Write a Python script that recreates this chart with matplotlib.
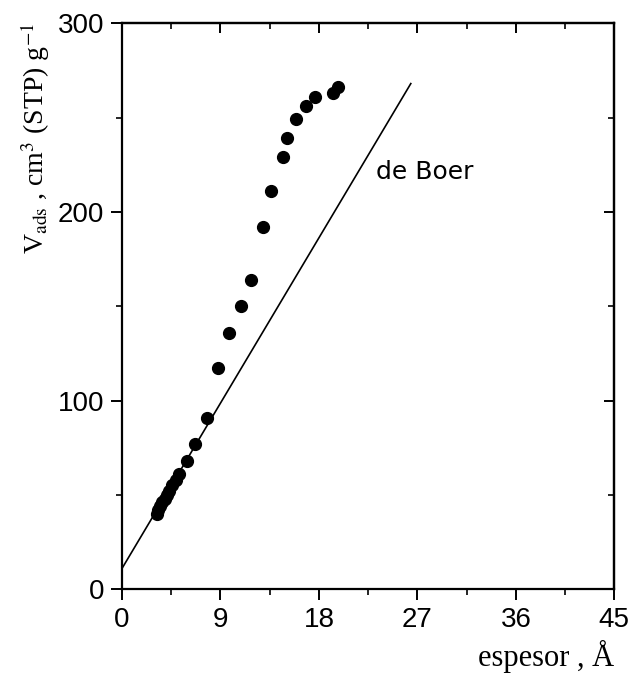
import numpy as np
import matplotlib
matplotlib.use("Agg")
import matplotlib.pyplot as plt
from matplotlib.ticker import MultipleLocator

# measured points (espesor in A, V_ads in cm3 STP/g)
espesor = [3.2, 3.3, 3.5, 3.7, 3.9, 4.1, 4.3, 4.6, 4.9, 5.2,
           5.9, 6.7, 7.8, 8.8, 9.8, 10.9, 11.8, 12.9, 13.6, 14.7,
           15.1, 15.9, 16.8, 17.6, 19.3, 19.7]
v_ads = [40, 42, 44, 46, 48, 50, 52, 55, 58, 61,
         68, 77, 91, 117, 136, 150, 164, 192, 211, 229,
         239, 249, 256, 261, 263, 266]

# de Boer reference line
boer_x = [0, 26.4]
boer_y = [11, 268]

plt.rcParams['mathtext.fontset'] = 'stix'

fig = plt.figure(figsize=(6.32, 6.82), dpi=100)
ax = fig.add_axes([0.193, 0.136, 0.779, 0.830])

ax.plot(boer_x, boer_y, color='black', lw=1.2)
ax.plot(espesor, v_ads, 'o', color='black', ms=8.5, mec='black')

ax.text(23.2, 221, 'de Boer', fontsize=18, family='DejaVu Sans',
        va='center', ha='left')

ax.set_xlim(0, 45)
ax.set_ylim(0, 300)
ax.xaxis.set_major_locator(MultipleLocator(9))
ax.xaxis.set_minor_locator(MultipleLocator(4.5))
ax.yaxis.set_major_locator(MultipleLocator(100))
ax.yaxis.set_minor_locator(MultipleLocator(50))

for s in ax.spines.values():
    s.set_linewidth(1.6)

ax.tick_params(which='major', direction='out', length=8, width=1.4,
               labelsize=20, pad=5)
ax.tick_params(which='minor', direction='out', length=4, width=1.2)
for lab in ax.get_xticklabels() + ax.get_yticklabels():
    lab.set_family('Liberation Sans')

# inward ticks on top and right
top = ax.secondary_xaxis('top')
top.xaxis.set_major_locator(MultipleLocator(9))
top.xaxis.set_minor_locator(MultipleLocator(4.5))
top.tick_params(which='major', direction='in', length=7, width=1.4, labeltop=False)
top.tick_params(which='minor', direction='in', length=4, width=1.2)
right = ax.secondary_yaxis('right')
right.yaxis.set_major_locator(MultipleLocator(100))
right.yaxis.set_minor_locator(MultipleLocator(50))
right.tick_params(which='major', direction='in', length=7, width=1.4, labelright=False)
right.tick_params(which='minor', direction='in', length=4, width=1.2)
for sa in (top, right):
    for s in sa.spines.values():
        s.set_linewidth(1.6)

ax.set_xlabel('espesor , Å', fontsize=22, family='Liberation Serif',
              loc='right', labelpad=5)
ax.set_ylabel(r'V$_{\mathrm{ads}}$ , cm$^{3}$ (STP) g$^{-1}$', fontsize=20,
              family='Liberation Serif', loc='top', labelpad=4)

fig.savefig('out.png', dpi=100)
